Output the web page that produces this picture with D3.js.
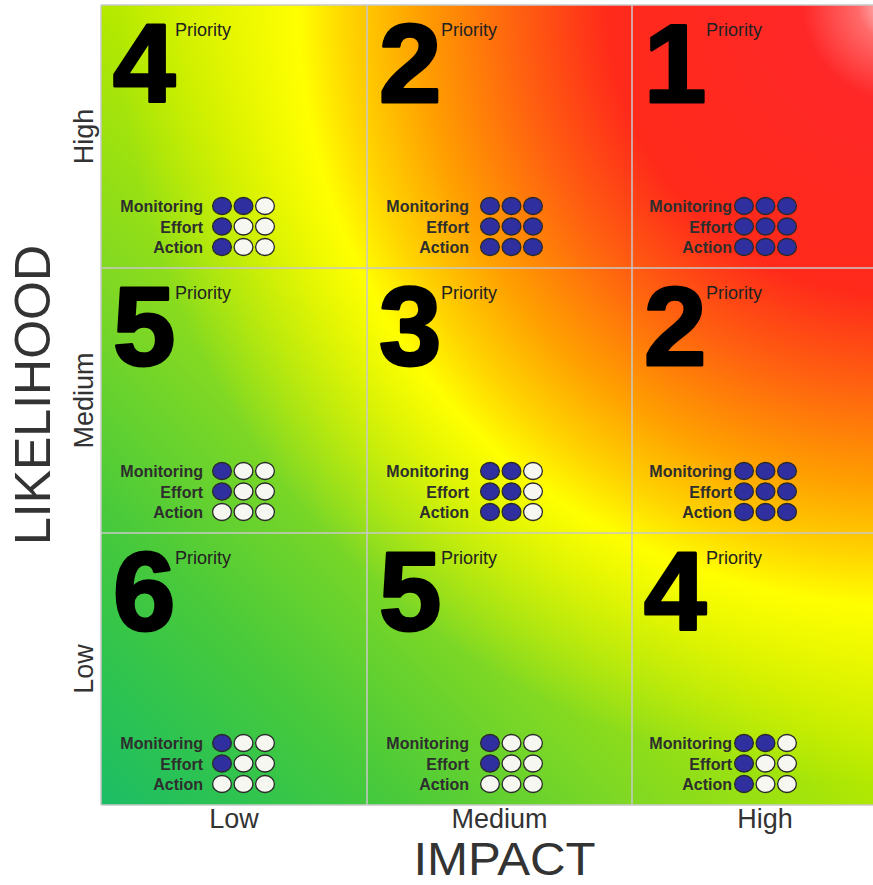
<!DOCTYPE html>
<html>
<head>
<meta charset="utf-8">
<script src="https://cdn.jsdelivr.net/npm/d3@7"></script>
<style>
  body { margin: 0; background: #fff; overflow: hidden; }
  svg { display: block; font-family: "Liberation Sans", Arial, sans-serif; }
</style>
</head>
<body>
<svg id="chart" width="873" height="885"></svg>
<script>
// Risk matrix: impact across, likelihood up.
const impactLevels = ["Low", "Medium", "High"];
const likelihoodLevels = ["Low", "Medium", "High"];

// Rows indexed by likelihood (0 = Low), columns by impact (0 = Low)
const priority   = [[6, 5, 4], [5, 3, 2], [4, 2, 1]];
const monitoring = [[1, 1, 2], [1, 2, 3], [2, 3, 3]];
const effort     = [[1, 1, 1], [1, 2, 3], [1, 3, 3]];
const action     = [[0, 0, 1], [0, 2, 3], [1, 3, 3]];

const measureNames = ["Monitoring", "Effort", "Action"];
const measureValues = [monitoring, effort, action];
const maxLevel = 3;

const axisTitleX = "IMPACT";
const axisTitleY = "LIKELIHOOD";
const priorityWord = "Priority";

// ---- layout ----
const svg = d3.select("#chart");
const x = d3.scaleLinear().domain([0, 1, 2, 3]).range([101, 367, 632, 898]);
const y = d3.scaleLinear().domain([0, 1, 2, 3]).range([805, 533, 268, 5]);

const defs = svg.append("defs");

// base wash: green in the low/low corner rising to yellow along the diagonal
const baseStops = [
  [0.00, "#1cbd66"], [0.08, "#2cc352"], [0.18, "#46c93c"], [0.33, "#7fd824"],
  [0.50, "#b4e900"], [0.65, "#e0f500"], [1.00, "#ffff00"]
];
const base = defs.append("linearGradient")
  .attr("id", "heatBase").attr("gradientUnits", "userSpaceOnUse")
  .attr("x1", x(0)).attr("y1", y(0)).attr("x2", x(3)).attr("y2", y(3));
base.selectAll("stop").data(baseStops).join("stop")
  .attr("offset", d => d[0]).attr("stop-color", d => d[1]);

// hot glow radiating from the high/high corner
const glowRadius = 800;
const glowStops = [
  [0, "#ffe6e6", 1], [40, "#ff6a6a", 1], [95, "#ff2828", 1], [290, "#ff2a1a", 1],
  [380, "#ff6010", 1], [480, "#ffa000", 1], [550, "#ffd400", 1], [600, "#ffff00", 1],
  [680, "#f8fb00", 0.55], [780, "#f0f800", 0]
];
const glow = defs.append("radialGradient")
  .attr("id", "heatGlow").attr("gradientUnits", "userSpaceOnUse")
  .attr("cx", x(3)).attr("cy", y(3)).attr("r", glowRadius)
  .attr("fx", x(3)).attr("fy", y(3));
glow.selectAll("stop").data(glowStops).join("stop")
  .attr("offset", d => d[0] / glowRadius)
  .attr("stop-color", d => d[1]).attr("stop-opacity", d => d[2]);

["heatBase", "heatGlow"].forEach(id => {
  svg.append("rect")
    .attr("x", x(0)).attr("y", y(3))
    .attr("width", x(3) - x(0)).attr("height", y(0) - y(3))
    .attr("fill", `url(#${id})`);
});

// grid lines
const gridColor = "#c8c8c8";
svg.append("g").selectAll("line").data(d3.range(4)).join("line")
  .attr("x1", d => x(d)).attr("x2", d => x(d))
  .attr("y1", y(3)).attr("y2", y(0))
  .attr("stroke", gridColor).attr("stroke-width", 1.5);
svg.append("g").selectAll("line").data(d3.range(4)).join("line")
  .attr("y1", d => y(d)).attr("y2", d => y(d))
  .attr("x1", x(0)).attr("x2", x(3))
  .attr("stroke", gridColor).attr("stroke-width", 1.5);

// cells
const cells = [];
likelihoodLevels.forEach((_, li) => {
  impactLevels.forEach((_, ii) => {
    cells.push({ li, ii, p: priority[li][ii] });
  });
});

// per-column placement of the indicator block
const blockLayout = [
  { dot: 121, gap: 19 },
  { dot: 123, gap: 21 },
  { dot: 112, gap: 12 }
];
const rowRise = [62, 41.5, 21];
const dotStep = 21.5;

const cellG = svg.append("g").selectAll("g").data(cells).join("g");

cellG.append("text")
  .attr("x", d => x(d.ii) + 12)
  .attr("y", d => y(d.li + 1) + 97)
  .attr("font-size", 112).attr("font-weight", "bold")
  .attr("fill", "#000").attr("stroke", "#000").attr("stroke-width", 3)
  .attr("stroke-linejoin", "round")
  .text(d => d.p);

cellG.append("text")
  .attr("x", d => x(d.ii) + 74)
  .attr("y", d => y(d.li + 1) + 31)
  .attr("font-size", 18).attr("fill", "#222")
  .text(priorityWord);

cellG.each(function (d) {
  const g = d3.select(this);
  const lay = blockLayout[d.ii];
  const x0 = x(d.ii) + lay.dot;
  measureNames.forEach((name, m) => {
    const cy = y(d.li) - rowRise[m];
    const val = measureValues[m][d.li][d.ii];
    g.append("text")
      .attr("x", x0 - lay.gap).attr("y", cy + 6)
      .attr("text-anchor", "end")
      .attr("font-size", 16).attr("font-weight", "bold").attr("fill", "#2e2e2e")
      .text(name);
    g.selectAll(null).data(d3.range(maxLevel)).join("ellipse")
      .attr("cx", k => x0 + k * dotStep).attr("cy", cy)
      .attr("rx", 9.4).attr("ry", 8.5)
      .attr("fill", k => k < val ? "#2f2fa0" : "#f7f7f2")
      .attr("stroke", "#2a2a2a").attr("stroke-width", 1.3);
  });
});

// axis labels
svg.append("g").selectAll("text").data(impactLevels).join("text")
  .attr("x", (d, i) => (x(i) + x(i + 1)) / 2)
  .attr("y", 828)
  .attr("text-anchor", "middle").attr("font-size", 27).attr("fill", "#333")
  .text(d => d);

svg.append("g").selectAll("text").data(likelihoodLevels).join("text")
  .attr("transform", (d, i) => `translate(93,${(y(i) + y(i + 1)) / 2}) rotate(-90)`)
  .attr("text-anchor", "middle").attr("font-size", 27).attr("fill", "#333")
  .text(d => d);

svg.append("text")
  .attr("transform", `translate(${(x(0) + 898) / 2 + 5},875) scale(1.07,1)`)
  .attr("text-anchor", "middle").attr("font-size", 46).attr("fill", "#333")
  .text(axisTitleX);

svg.append("text")
  .attr("transform", `translate(50,395) rotate(-90)`)
  .attr("text-anchor", "middle").attr("font-size", 50).attr("fill", "#333")
  .text(axisTitleY);
</script>
</body>
</html>
